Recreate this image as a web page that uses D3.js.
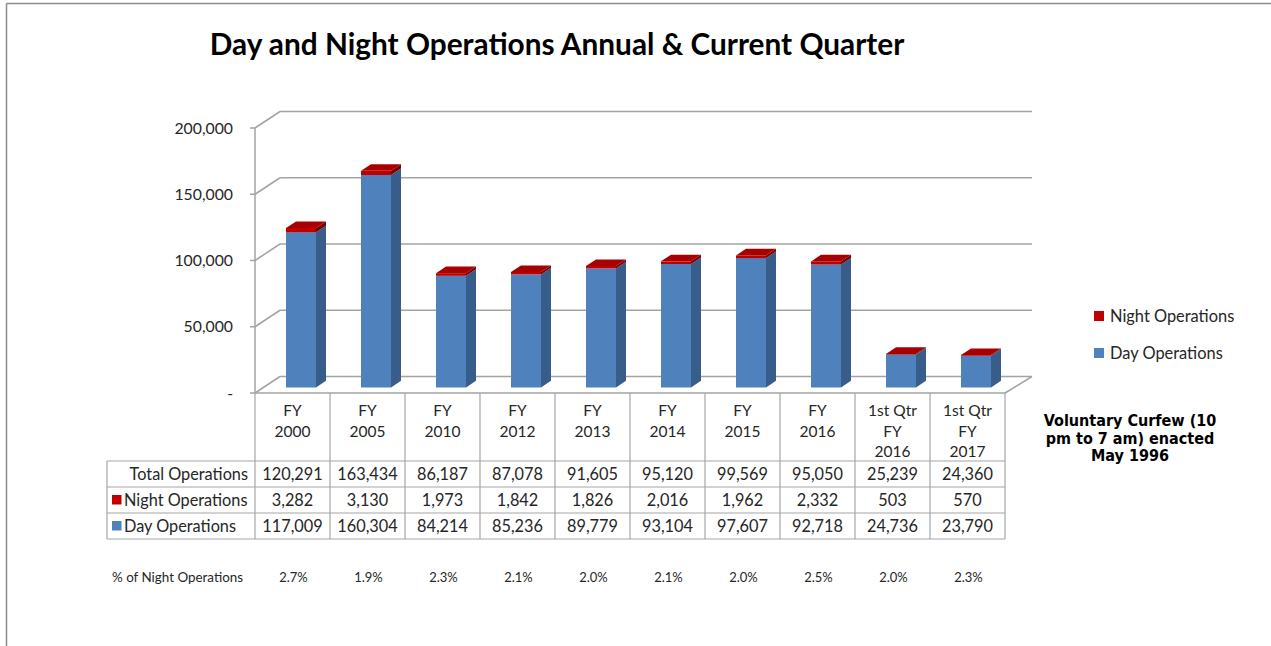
<!DOCTYPE html>
<html><head><meta charset="utf-8">
<script src="https://cdn.jsdelivr.net/npm/d3@7"></script>
<style>html,body{margin:0;padding:0;background:#fff;}svg{display:block;}</style>
</head><body>
<script>
const categories = [["FY","2000"],["FY","2005"],["FY","2010"],["FY","2012"],["FY","2013"],["FY","2014"],["FY","2015"],["FY","2016"],["1st Qtr","FY","2016"],["1st Qtr","FY","2017"]];
const totalOps = [120291,163434,86187,87078,91605,95120,99569,95050,25239,24360];
const nightOps = [3282,3130,1973,1842,1826,2016,1962,2332,503,570];
const dayOps   = [117009,160304,84214,85236,89779,93104,97607,92718,24736,23790];
const pctNight = ["2.7%","1.9%","2.3%","2.1%","2.0%","2.1%","2.0%","2.5%","2.0%","2.3%"];
const yTicks = [0,50000,100000,150000,200000];
const yTickLabels = ["-","50,000","100,000","150,000","200,000"];
const seriesNames = ["Night Operations","Day Operations"];
const rowLabels = ["Total Operations","Night Operations","Day Operations"];
const curfewNote = ["Voluntary Curfew (10","pm to 7 am) enacted","May 1996"];
const title = "Day and Night Operations Annual & Current Quarter";

const W=1271,H=646;
const svg=d3.select("body").append("svg").attr("width",W).attr("height",H);
const FONT="Lato, 'Open Sans', sans-serif";
const C_DAY="#4F81BD", C_DAY_SIDE="#385D8A", C_NIGHT="#C00000", C_NIGHT_TOP="#A80000", C_NIGHT_SIDE="#7A0000";
const GRID="#A3A3A3", TBL="#A6A6A6";

// frame border
svg.append("line").attr("x1",6.5).attr("y1",3.5).attr("x2",W).attr("y2",3.5).attr("stroke","#8c8c8c").attr("stroke-width",1.5);
svg.append("line").attr("x1",6.5).attr("y1",3.5).attr("x2",6.5).attr("y2",H).attr("stroke","#8c8c8c").attr("stroke-width",1.5);

// title
svg.append("text").attr("x",557).attr("y",55).attr("text-anchor","middle")
  .attr("font-family",FONT).attr("font-weight",700).attr("font-size",29.8).attr("fill","#000").text(title);

const left=255,right=1005,floorY=393,DX=25,DY=-16.5;
const x=d3.scaleBand().domain(d3.range(categories.length)).range([left,right]).padding(0);
const y=d3.scaleLinear().domain([0,200000]).range([floorY,128]);

// walls / gridlines
const g=svg.append("g");
yTicks.forEach(t=>{
  const yf=y(t);
  g.append("line").attr("x1",left).attr("y1",yf).attr("x2",left+DX).attr("y2",yf+DY).attr("stroke",GRID).attr("stroke-width",1.5);
  g.append("line").attr("x1",left+DX).attr("y1",yf+DY).attr("x2",right+DX+2).attr("y2",yf+DY).attr("stroke",GRID).attr("stroke-width",1.5);
  g.append("line").attr("x1",left-5).attr("y1",yf).attr("x2",left).attr("y2",yf).attr("stroke",GRID).attr("stroke-width",1.5);
});
// floor
g.append("line").attr("x1",left).attr("y1",floorY).attr("x2",right).attr("y2",floorY).attr("stroke",GRID).attr("stroke-width",1.5);
g.append("line").attr("x1",right).attr("y1",floorY).attr("x2",right+DX+2).attr("y2",floorY+DY).attr("stroke",GRID).attr("stroke-width",1.5);
// front axis
g.append("line").attr("x1",left).attr("y1",y(200000)).attr("x2",left).attr("y2",floorY).attr("stroke",GRID).attr("stroke-width",1.5);

// y labels
svg.append("g").selectAll("text").data(yTicks).join("text")
  .attr("x",233).attr("y",d=>y(d)+5.5).attr("text-anchor","end")
  .attr("font-family",FONT).attr("font-size",15.8).attr("fill","#262626")
  .text((d,i)=>yTickLabels[i]);

// bars
const f0=0.34,f1=0.74,bw=30;
const bars=svg.append("g");
function face(pts,fill){bars.append("polygon").attr("points",pts.map(p=>p.join(",")).join(" ")).attr("fill",fill);}
categories.forEach((c,i)=>{
  const bx=x(i)+(x.bandwidth()-bw)/2;
  const ox=f0*DX, oy=f0*DY, dx=(f1-f0)*DX, dy=(f1-f0)*DY;
  const x0=bx+ox, x1=x0+bw;
  const segs=[[0,dayOps[i],C_DAY,C_DAY_SIDE],[dayOps[i],dayOps[i]+nightOps[i],C_NIGHT,C_NIGHT_SIDE]];
  segs.forEach(([v0,v1,cf,cs])=>{
    const ya=y(v0)+oy, yb=y(v1)+oy;
    face([[x0,ya],[x1,ya],[x1,yb],[x0,yb]],cf);
    face([[x1,ya],[x1+dx,ya+dy],[x1+dx,yb+dy],[x1,yb]],cs);
  });
  const yt=y(dayOps[i]+nightOps[i])+oy;
  face([[x0,yt],[x1,yt],[x1+dx,yt+dy],[x0+dx,yt+dy]],C_NIGHT_TOP);
});

// table
const rowTop=[461,487,513,539];
const tableLeft=107;
const tg=svg.append("g");
categories.concat([null]).forEach((c,i)=>{
  const xx = i<categories.length ? x(i) : right;
  tg.append("line").attr("x1",xx).attr("y1",floorY).attr("x2",xx).attr("y2",rowTop[3]).attr("stroke",TBL).attr("stroke-width",1.2);
});
rowTop.forEach(r=>tg.append("line").attr("x1",tableLeft).attr("y1",r).attr("x2",right).attr("y2",r).attr("stroke",TBL).attr("stroke-width",1.2));
tg.append("line").attr("x1",tableLeft).attr("y1",rowTop[0]).attr("x2",tableLeft).attr("y2",rowTop[3]).attr("stroke",TBL).attr("stroke-width",1.2);

// category labels
categories.forEach((c,i)=>{
  c.forEach((s,k)=>{
    tg.append("text").attr("x",x(i)+x.bandwidth()/2).attr("y",416+k*20.5).attr("text-anchor","middle")
      .attr("font-family",FONT).attr("font-size",15.5).attr("fill","#262626").text(s);
  });
});
const fmt=d3.format(",");
const rowsData=[totalOps,nightOps,dayOps];
rowsData.forEach((arr,r)=>{
  const yc=(rowTop[r]+rowTop[r+1])/2+5.5;
  arr.forEach((v,i)=>{
    tg.append("text").attr("x",x(i)+x.bandwidth()/2).attr("y",yc).attr("text-anchor","middle")
      .attr("font-family",FONT).attr("font-size",16.3).attr("fill","#262626").text(fmt(v));
  });
  tg.append("text").attr("y",yc).attr("font-family",FONT).attr("font-size",16.3).attr("fill","#262626")
    .attr("text-anchor", r===0?"end":"start").attr("x", r===0?248:124).text(rowLabels[r]);
  if(r>0){
    tg.append("rect").attr("x",112).attr("y",yc-10.5).attr("width",9.5).attr("height",9.5).attr("fill",r===1?C_NIGHT:C_DAY);
  }
});

// percent row
svg.append("text").attr("x",112).attr("y",582).attr("font-family",FONT).attr("font-size",13.4).attr("fill","#262626").text("% of Night Operations");
pctNight.forEach((p,i)=>{
  svg.append("text").attr("x",x(i)+x.bandwidth()/2+1).attr("y",582).attr("text-anchor","middle")
    .attr("font-family",FONT).attr("font-size",13).attr("fill","#262626").text(p);
});

// legend
const lg=svg.append("g");
seriesNames.forEach((n,i)=>{
  const yy=316+i*37;
  lg.append("rect").attr("x",1094).attr("y",yy-5).attr("width",10).attr("height",10).attr("fill",i===0?C_NIGHT:C_DAY);
  lg.append("text").attr("x",1110).attr("y",yy+5.5).attr("font-family",FONT).attr("font-size",16.4).attr("fill","#262626").text(n);
});

// curfew note
curfewNote.forEach((s,k)=>{
  svg.append("text").attr("x",1130).attr("y",426+k*17.5).attr("text-anchor","middle")
    .attr("font-family","'DejaVu Sans Condensed','DejaVu Sans',sans-serif").attr("font-weight",700).attr("font-size",16).attr("fill","#000").text(s);
});
</script>
</body></html>
